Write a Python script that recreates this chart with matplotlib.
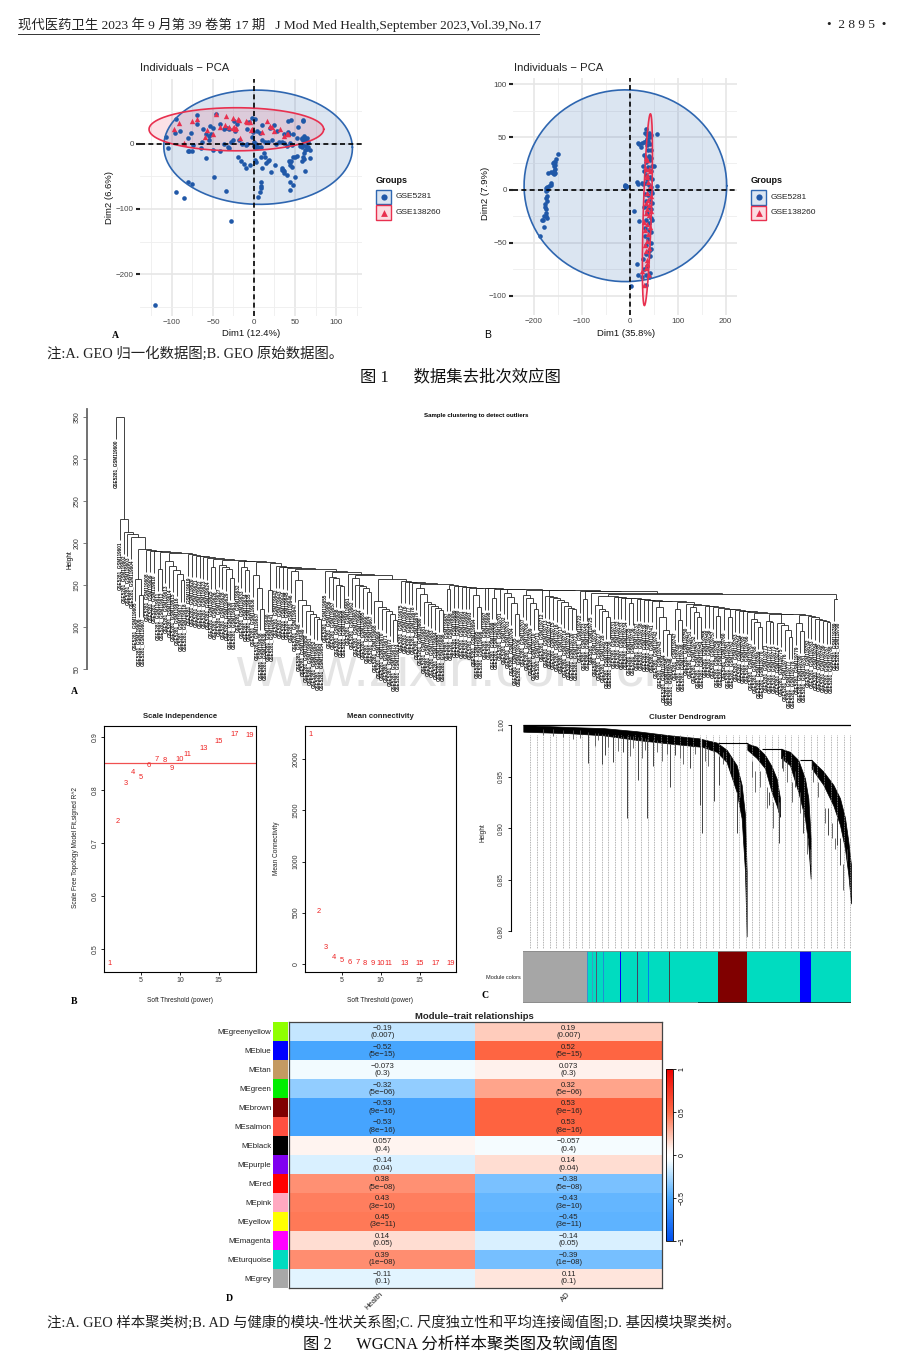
import numpy as np
import matplotlib
matplotlib.use("Agg")
import matplotlib.pyplot as plt
from matplotlib.colors import LinearSegmentedColormap
from matplotlib.patches import Rectangle

W, H = 920, 1372
SANS = "Liberation Sans"
SERIF = ["Liberation Serif", "Noto Sans CJK SC"]
plt.rcParams["font.family"] = SANS

# --- Figure 1: PCA values ---
a_blue = [(-121,-247),(-28,-118),(-95,-74),(-85,-83),(-81,-58),(-76,-62),(-49,-51),(-34,-72),
          (5,-81),(7,-74),(8,-68),(9,-65),(9,-58),(44,-71),(48,-63),(44,-58),(50,-51),(40,-48),
          (36,-42),(34,-40),(34,-38),(46,-36),(62,-42),(44,-33),(44,-28),(43,-26),(45,-27),
          (50,-20),(47,-20),(53,-19),(60,-20),(61,-24),(59,-27),(68,-22),(61,-14),(62,-10),
          (65,-8),(68,-10),(66,-5),(58,-5),(56,-3),(63,-3),(60,-2),(66,2),(64,4),(62,8),(59,9),
          (61,11),(65,8),(60,5),(58,7),(-59,-22),(-19,-20),(-16,-27),(-12,-31),(-10,-37),(-5,-33),
          (2,-28),(1,-25),(10,-37),(17,-27),(15,-30),(18,-25),(21,-43),(26,-33),(35,-40),(37,-45),
          (9,-20),(14,-20),(12,-15),(-105,-6),(-107,10),(-95,37),(-96,17),(-90,20),(-81,-12),
          (-79,-12),(-76,-11),(-81,8),(-77,17),(-74,-2),(-70,44),(-70,30),(-65,-7),(-64,2),(-58,15),
          (-55,5),(-55,12),(-52,14),(-50,24),(-50,-10),(-42,-11),(-36,-1),(-32,-5),(-30,-7),(-28,3),
          (-26,5),(-36,22),(-33,24),(-30,22),(-24,35),(-21,30),(-23,20),(-18,6),(-15,-1),(-10,-2),
          (-9,0),(-8,22),(-6,33),(-2,39),(1,38),(-1,18),(-2,10),(0,3),(0,-3),(2,-6),(3,0),(5,-5),
          (8,-5),(4,19),(7,17),(10,5),(13,3),(17,2),(22,6),(27,-1),(30,3),(34,3),(37,1),(40,-3),
          (44,1),(46,-2),(43,15),(42,18),(41,35),(45,36),(36,15),(48,15),(54,26),(60,36),(60,34),
          (52,9),(24,28),(20,24),(28,20),(10,28),(-41,30),(-46,45),(-54,27),(-62,22)]
a_red = [(-46,45),(-34,42),(-25,40),(-20,38),(-76,35),(-70,38),(-91,32),(-98,22),(-85,1),(-57,21),
         (-60,10),(-50,15),(-42,26),(-35,28),(-30,25),(-26,24),(-22,24),(-18,36),(-17,8),(-10,34),
         (-8,33),(-5,33),(-4,21),(-2,22),(10,18),(16,35),(19,27),(22,25),(25,20),(32,22),(36,12),
         (40,14),(42,15),(-23,22),(-24,26)]
b_blue = [(-150,34),(-153,29),(-155,26),(-156,24),(-158,26),(-158,23),(-160,25),(-156,20),(-158,18),
          (-155,16),(-160,16),(-158,15),(-165,17),(-170,16),(-165,7),(-165,5),(-168,4),(-172,3),
          (-174,2),(-172,0),(-174,-1),(-173,-6),(-175,-8),(-172,-10),(-176,-13),(-177,-16),(-175,-18),
          (-175,-22),(-174,-25),(-172,-26),(-178,-25),(-183,-28),(-180,-28),(-178,-35),(-187,-43),
          (-10,4),(-9,4),(-8,4),(-7,4),(-9,5),(-8,3),(17,44),(20,43),(23,41),(25,44),(30,45),(33,46),
          (58,53),(34,58),(32,54),(36,52),(40,54),(42,50),(36,48),(44,52),(38,46),(36,42),(42,43),
          (38,38),(44,38),(30,33),(34,30),(40,32),(44,30),(35,26),(42,28),(27,23),(38,22),(46,23),
          (50,23),(30,18),(44,18),(34,14),(42,12),(36,10),(46,10),(16,8),(18,6),(25,7),(28,6),(35,7),
          (58,4),(40,5),(44,3),(40,0),(44,-1),(32,-4),(38,-5),(46,-3),(34,-10),(42,-10),(47,-12),
          (30,-16),(38,-16),(45,-18),(36,-22),(44,-26),(10,-20),(20,-29),(35,-28),(40,-31),(46,-28),
          (32,-36),(40,-38),(44,-40),(32,-43),(38,-46),(44,-50),(34,-52),(40,-58),(33,-60),(45,-56),
          (42,-62),(28,-65),(15,-70),(36,-72),(30,-75),(18,-80),(33,-80),(40,-82),(3,-91),(33,-90),
          (42,-78),(25,-82)]
b_red = [(35,20),(40,20),(42,18),(36,14),(38,8),(42,3),(36,-3),(44,-6),(38,-9),(33,-12),(40,-14),
         (36,-18),(44,-20),(34,-22),(40,-24),(30,-30),(37,-32),(42,-35),(32,-38),(38,-42),(36,-48),
         (32,-52),(40,-55),(34,-58),(37,-66),(36,-70),(26,-76),(33,-74),(40,-80),(30,-90),(37,28),
         (34,30),(37,12)]
# centre x, centre y, radius x, radius y, shear
a_ell_blue = (5, -5.5, 115, 87.5, -2)
a_ell_red = (-21.5, 22, 106.5, 33, 0)
b_ell_blue = (-9, 4, 211.5, 90.5, 0)
b_ell_red = (37, -18.6, 8.5, 90.5, 6.3)

# --- Figure 2A: sample dendrogram, chain of (merge height, sub-branch heights) ---
dend_mid = [(137,[126,122,119,112]),(136,[]),(135.5,[]),(135,[]),(134.5,[]),(134,[128]),(133.5,[]),
            (133,[]),(132.5,[]),(132,[]),(131.5,[]),(131,[124,112,96,92]),(130,[122,108]),(127,[]),
            (126,[124,118,112]),(125,[]),(124.5,[]),(124,[]),(123,[113]),(122,[]),(121,[112]),(120,[]),
            (119,[]),(118.5,[]),(118,[]),(117,[110,106,100]),(116,[107,106]),(115,[105,102,97,88]),
            (114,[105,95]),(113,[]),(112,[]),(110,[]),(108,[]),(107,[]),(106,[])]
dend_chain = [(350,[]),(229,[]),(213,[]),(211,[]),(207,[]),(193,[157,138]),(192,[]),(191,[]),(190,[]),
              (189,[169]),(188,[178,173,168,163,156]),(187,[]),(186,[]),(185,[]),(184,[]),(183,[]),
              (182,[]),(181,[171]),(180,[174,171,169,158]),(179,[]),(178,[172,168]),
              (177,[162,146,122]),(176,[144]),(173,[]),(172,[]),(171,[]),(170,[]),
              (169,[167,156,132,126,119,116,112,110]),(167,[]),(165,[160,158,150,149]),(163,[]),
              (162,[158,150,149,147,142]),(157,[131,124,122,119,115,108]),(155,[]),(154,[]),(153,[]),
              (152,[]),(151,[146,139,130,127,125,123,120]),(150,[145]),(149,[]),(148.5,[]),(148,[]),
              (147.5,[]),(147,[]),(146.5,[138,124]),(146.2,[]),(146,[]),(145.5,[135]),(145.2,[]),
              (145,[141,136,128,115]),(144.5,[138,134,128,122]),(144,[]),(143.5,[137,136,134,132,130,125,123,122]),
              (143,[]),(142.5,[133]),(141,[]),(139.5,dend_mid),(133,[])]
dend_ticks = [50,100,150,200,250,300,350]

# --- Figure 2B: soft threshold ---
powers = [1,2,3,4,5,6,7,8,9,10,11,13,15,17,19]
sft_r2 = [0.474,0.740,0.812,0.833,0.824,0.847,0.857,0.855,0.840,0.857,0.867,0.879,0.892,0.905,0.903]
mean_k = [2245,509,160,59,29,16,10,7,5,3,2,1,0.5,0.3,0.2]

# --- Figure 2C: gene dendrogram envelopes, one block per branch ---
block_pos = [[0,140,240,340,440,530],[535,580,610,640,655,665,670],[672,700,725,745,760,770],
             [773,800,825,845,855,862],[865,900,930,950,965,975,983]]
block_top = [[1.000,0.998,0.997,0.994,0.990,0.987],[0.9864,0.983,0.976,0.961,0.942,0.913,0.858],
             [0.982,0.979,0.971,0.960,0.948,0.929],[0.977,0.974,0.966,0.948,0.929,0.890],
             [0.966,0.955,0.942,0.929,0.910,0.887,0.864]]
block_bot = [[0.9935,0.992,0.990,0.9855,0.982,0.979],[0.979,0.974,0.964,0.935,0.9095,0.858,0.795],
             [0.976,0.968,0.958,0.935,0.922,0.911],[0.968,0.961,0.935,0.9095,0.884,0.851],
             [0.958,0.942,0.922,0.903,0.880,0.855,0.827]]
spike_pos = [195,235,245,270,300,311,343,372,388,440,455,500,530,535,572,587,640,738,765,767,775,815,840,855,860,915,942,950,970]
spike_bot = [.963,.962,.971,.964,.974,.9095,.947,.9095,.960,.940,.971,.958,.922,.895,.926,.942,.895,.922,.916,.886,.958,.940,.895,.885,.865,.893,.884,.864,.868]
spike_top = [.993,.991,.991,.990,.989,.989,.988,.986,.985,.982,.982,.981,.980,.979,.975,.970,.935,.935,.93,.925,.968,.955,.92,.89,.88,.92,.91,.89,.88]
hair_pos = [60,90,120,150,170,215,225,255,285,320,330,355,365,400,415,430,470,480,515,545,555,600,620,630,650,685,695,710,730,750,780,790,805,830,850,870,885,905,925,935,958]
hair_bot = [.990,.989,.988,.986,.987,.980,.985,.979,.975,.970,.978,.968,.976,.974,.965,.972,.968,.962,.972,.965,.960,.962,.955,.950,.930,.950,.935,.940,.920,.900,.955,.945,.925,.915,.875,.945,.930,.905,.890,.880,.840]
hair_top = [.996,.996,.995,.995,.995,.992,.992,.991,.990,.989,.989,.988,.987,.985,.984,.983,.982,.981,.980,.980,.979,.974,.970,.965,.945,.965,.955,.955,.94,.925,.97,.965,.945,.935,.895,.96,.945,.92,.905,.89,.865]
link_h = [0.983,0.977,0.966]
link_x0 = [585,715,830]
link_x1 = [675,775,865]
module_start = [0,192,585,672,830,864]
module_end = [192,585,672,830,864,983]
module_col = ["#a6a6a6","#00dcc0","#800000","#00dcc0","#0000ff","#00dcc0"]
stripe_pos = [192,206,218,240,265,290,310,342,355,375,437,475]
stripe_col = ["#3a8fd0","#3aa0c0","#555577","#2090d0","#0000ff","#0000ff","#777777","#444466","#2090d0","#0080f0","#444444","#30a0d0"]

# --- Figure 2D: module-trait table ---
me_names = ["MEgreenyellow","MEblue","MEtan","MEgreen","MEbrown","MEsalmon","MEblack","MEpurple",
            "MEred","MEpink","MEyellow","MEmagenta","MEturquoise","MEgrey"]
me_cols = ["#8fff00","#0000ff","#c49a62","#00ee00","#800000","#ff5040","#000000","#8000f0",
           "#ff0000","#ffa8c0","#ffff00","#ff00ff","#00dcc0","#a8a8a8"]
cor_health = [-0.19,-0.52,-0.073,-0.32,-0.53,-0.53,0.057,-0.14,0.38,0.43,0.45,0.14,0.39,-0.11]
cor_ad = [0.19,0.52,0.073,0.32,0.53,0.53,-0.057,0.14,-0.38,-0.43,-0.45,-0.14,-0.39,0.11]
pvals = ["0.007","5e\u221215","0.3","5e\u221206","9e\u221216","8e\u221216","0.4","0.04",
         "5e\u221208","3e\u221210","3e\u221211","0.05","1e\u221208","0.1"]
traits = ["Health","AD"]
cmap_vals = [-1, -0.5, -0.19, -0.07, 0, 0.07, 0.19, 0.5, 1]
cmap_cols = ["#0050f0","#4baaff","#c5e7ff","#f4fcff","#ffffff","#fff3ee","#ffcdbd","#ff6a45","#ee0000"]

fig = plt.figure(figsize=(W / 100, H / 100), dpi=100, facecolor="white")


def pix_axes(left, top, right, bottom, **kw):
    return fig.add_axes([left / W, 1 - bottom / H, (right - left) / W, (bottom - top) / H], **kw)


# overlay in pixel units for running text, legends and panel letters
page = pix_axes(0, 0, W, H, facecolor="none", zorder=20)
page.set_xlim(0, W)
page.set_ylim(H, 0)
page.axis("off")

BLUE, RED = "#2058a8", "#e8304f"


def ellipse(ax, par, col, alpha):
    cx, cy, rx, ry, shear = par
    t = np.linspace(0, 2 * np.pi, 200)
    ex = cx + rx * np.cos(t) + shear * np.sin(t)
    ey = cy + ry * np.sin(t)
    ax.fill(ex, ey, color=col, alpha=alpha, lw=0, zorder=2)
    ax.plot(ex, ey, color=col, lw=1.2, zorder=5)


def pca_panel(box, xlim, ylim, xt, xm, yt, ym, blue, red, ell_b, ell_r):
    ax = pix_axes(*box)
    ax.set_xlim(xlim)
    ax.set_ylim(ylim)
    for s in ax.spines.values():
        s.set_visible(False)
    ax.set_xticks(xt)
    ax.set_xticks(xm, minor=True)
    ax.set_yticks(yt)
    ax.set_yticks(ym, minor=True)
    ax.grid(which="major", color="#e6e6e6", lw=1.2)
    ax.grid(which="minor", color="#eeeeee", lw=0.6)
    ax.set_axisbelow(True)
    ax.tick_params(axis="x", which="both", length=0, labelsize=5.8, labelcolor="#444444", pad=2)
    ax.tick_params(axis="y", which="major", length=3, width=1.5, color="#222222", labelsize=5.8, labelcolor="#444444", pad=1.5)
    ax.tick_params(axis="y", which="minor", length=0)
    ellipse(ax, ell_b, "#2e66b0", 0.17)
    ellipse(ax, ell_r, RED, 0.14)
    ax.scatter(*zip(*blue), s=11, color=BLUE, lw=0, zorder=4)
    ax.scatter(*zip(*red), s=15, marker="^", color=RED, lw=0, zorder=4)
    ax.axhline(0, color="black", lw=1.2, ls=(0, (3, 2)), zorder=6)
    ax.axvline(0, color="black", lw=1.2, ls=(0, (3, 2)), zorder=6)
    return ax


pca_panel((140, 79, 362, 316), (-139, 131.7), (-264, 99),
          [-100, -50, 0, 50, 100], [-125, -75, -25, 25, 75, 125],
          [-200, -100, 0], [-250, -150, -50, 50], a_blue, a_red, a_ell_blue, a_ell_red)
pca_panel((513, 78, 737, 315), (-243.6, 224), (-118, 105.7),
          [-200, -100, 0, 100, 200], [-150, -50, 50, 150],
          [-100, -50, 0, 50, 100], [-75, -25, 25, 75], b_blue, b_red, b_ell_blue, b_ell_red)


def pca_labels(tx, xl, xy, yl, yy, yx, gx, name_x, legend_top):
    page.text(tx, 68, "Individuals \u2212 PCA", fontsize=8.1, va="center", color="#222222")
    page.text(xl, 333.3, xy, fontsize=6.8, ha="center", va="center", color="#111111")
    page.text(yx, yy, yl, fontsize=6.8, ha="center", va="center", rotation=90, color="#111111")
    page.text(gx, 180.5, "Groups", fontsize=6.5, va="center", color="#111111", fontweight="bold")
    for i, (name, col, mk, size) in enumerate([("GSE5281", "#2e66b0", "o", 20), ("GSE138260", RED, "^", 24)]):
        top = legend_top + i * 15.8
        page.add_patch(Rectangle((gx + 0.5, top), 14.3, 14.5, fc=col, ec=col, alpha=0.17, lw=0))
        page.add_patch(Rectangle((gx + 0.5, top), 14.3, 14.5, fc="none", ec=col, lw=1))
        page.scatter([gx + 7.6], [top + 7.2], s=size, marker=mk, color=BLUE if i == 0 else RED, lw=0)
        page.text(name_x, top + 7.2, name, fontsize=6, va="center", color="#222222")


pca_labels(140, 251, "Dim1 (12.4%)", "Dim2 (6.6%)", 197, 110, 376, 396, 189.5)
pca_labels(514, 626, "Dim1 (35.8%)", "Dim2 (7.9%)", 193, 485.5, 751, 771, 190)
page.text(115, 335, "A", fontsize=7, ha="center", va="center", family=SERIF, fontweight="bold")
page.text(487.5, 335, "B", fontsize=7.5, ha="center", va="center")

# --- Dendrogram A ---
HANG = 26
leaves, v_segs, h_segs = [], [], []
next_leaf = 0


def child(item, h):
    global next_leaf
    if not item:
        x = next_leaf
        next_leaf += 1
        leaves.append((x, h))
        return x
    x, ch = walk(item)
    v_segs.append((x, ch, h))
    return x


def walk(chain):
    h, sub = chain[0]
    if sub and not isinstance(sub[0], tuple):
        sub = [(v, []) for v in sub]
    xl = child(sub, h)
    xr = child(chain[1:], h)
    h_segs.append((h, xl, xr))
    return (xl + xr) / 2, h


walk(dend_chain)
n_leaf = next_leaf
ax = pix_axes(87, 405, 838, 700, facecolor="none")
ax.set_xlim(-(116 - 87) / (838 - 116) * (n_leaf - 1), n_leaf - 1)
ax.set_ylim(50 - (700 - 669) / 0.84, 50 + (669 - 405) / 0.84)
for x, h in leaves:
    v_segs.append((x, h - HANG, h))
    ax.text(x, h - HANG - 1, f"GSE5281_GSM{119600 + x}", rotation=90, ha="center", va="top",
            fontsize=3.3, fontweight="bold", color="#111111", clip_on=False)
vx, v0, v1 = zip(*v_segs)
ax.vlines(vx, v0, v1, color="#222222", lw=0.6)
hy, h0, h1 = zip(*h_segs)
ax.hlines(hy, h0, h1, color="#222222", lw=0.6)
for s in ["top", "right", "bottom"]:
    ax.spines[s].set_visible(False)
ax.spines["left"].set_bounds(50, 360)
ax.spines["left"].set_color("#666666")
ax.spines["left"].set_linewidth(1.3)
ax.set_xticks([])
ax.set_yticks(dend_ticks)
ax.tick_params(axis="y", length=3, width=0.6, color="#666666", labelsize=5, labelcolor="#333333", pad=1.5)
plt.setp(ax.get_yticklabels(), rotation=90, va="center")
page.text(70.5, 560, "Height", fontsize=4.7, rotation=90, ha="center", va="center")
page.text(476, 415.5, "Sample clustering to detect outliers", fontsize=4.4, fontweight="bold", ha="center", va="center")
page.text(74, 691, "A", fontsize=7, ha="center", va="center", family=SERIF, fontweight="bold")

# background watermark
fig.text(455 / W, 1 - 685 / H, "www.zixin.com.cn", fontsize=40, color="#e4e4e4", ha="center", va="baseline", zorder=-5)


# --- Soft threshold panels ---
def sft_panel(box, xlim, ylim, yvals, yticks, title, ylabel, ylabel_x):
    ax = pix_axes(*box)
    ax.set_xlim(xlim)
    ax.set_ylim(ylim)
    for p, v in zip(powers, yvals):
        ax.text(p, v, str(p), color="#ee2020", fontsize=5.4, ha="center", va="center")
    ax.set_xticks([5, 10, 15])
    ax.set_yticks(yticks)
    ax.tick_params(length=2.5, width=0.6, labelsize=5, pad=1.5, labelcolor="#333333")
    plt.setp(ax.get_yticklabels(), rotation=90, va="center")
    for s in ax.spines.values():
        s.set_linewidth(0.8)
    cx = (box[0] + box[2]) / 2
    page.text(cx, 716.5, title, fontsize=5.6, fontweight="bold", ha="center", va="center", color="#222222")
    page.text(cx, 1000.5, "Soft Threshold (power)", fontsize=4.7, ha="center", va="center", color="#222222")
    page.text(ylabel_x, 848, ylabel, fontsize=4.7, rotation=90, ha="center", va="center", color="#222222")
    return ax


ax = sft_panel((104.3, 725.7, 255.7, 971.7), (0.28, 19.76), (0.458, 0.921), sft_r2,
               [0.5, 0.6, 0.7, 0.8, 0.9], "Scale independence", "Scale Free Topology Model Fit,signed R^2", 76)
ax.axhline(0.85, color="#f05050", lw=0.9)
sft_panel((305, 725.7, 455.7, 971.7), (0.3, 19.6), (-78, 2329), mean_k,
          [0, 500, 1000, 1500, 2000], "Mean connectivity", "Mean Connectivity", 277)
page.text(74, 1001, "B", fontsize=7, ha="center", va="center", family=SERIF, fontweight="bold")

# --- Cluster dendrogram C ---
ax = pix_axes(510.7, 720, 851, 949, facecolor="none")
ax.set_xlim(-37.8, 983)
ax.set_ylim(0.7828, 1.00485)
guides = np.arange(20, 984, 19.6)
ax.vlines(guides, 0.7828, 0.99, color="#999999", lw=0.6, ls=(0, (1, 1)))
ax.vlines(hair_pos, hair_bot, hair_top, color="#555555", lw=0.6)
ax.vlines(spike_pos, spike_bot, spike_top, color="#444444", lw=0.7)
for px_, tp, bt in zip(block_pos, block_top, block_bot):
    ax.fill_between(px_, bt, tp, color="black", lw=0.5)
ax.hlines(link_h, link_x0, link_x1, color="black", lw=0.8)
ax.hlines(1.0, 0, 983, color="black", lw=0.9)
ax.vlines(983, 0.99, 1.0, color="black", lw=0.6)
for s in ["top", "right", "bottom"]:
    ax.spines[s].set_visible(False)
ax.spines["left"].set_bounds(0.80, 1.00)
ax.set_xticks([])
ax.set_yticks([0.80, 0.85, 0.90, 0.95, 1.00])
ax.set_yticklabels(["0.80", "0.85", "0.90", "0.95", "1.00"])
ax.tick_params(axis="y", length=2.5, width=0.6, labelsize=4.8, pad=1.5, labelcolor="#333333")
plt.setp(ax.get_yticklabels(), rotation=90, va="center")
page.text(483, 833, "Height", fontsize=4.7, rotation=90, ha="center", va="center", color="#222222")
page.text(687, 717.5, "Cluster Dendrogram", fontsize=5.7, fontweight="bold", ha="center", va="center", color="#222222")

ax = pix_axes(523.3, 951, 851, 1003)
ax.set_xlim(0, 983)
ax.set_ylim(0, 1)
ax.barh(0.5, np.array(module_end) - np.array(module_start), left=module_start, height=1, color=module_col, lw=0)
ax.barh(0.5, 2.5, left=stripe_pos, height=1, color=stripe_col, lw=0)
ax.hlines(1, 0, 983, color="#888888", lw=1.2)
ax.hlines(0, 0, 525, color="#888888", lw=1.2)
ax.hlines(0, 525, 983, color="#222222", lw=1.2)
ax.axis("off")
page.text(520.5, 977.5, "Module colors", fontsize=4, ha="right", va="center", color="#222222")
page.text(485.5, 995.5, "C", fontsize=7, ha="center", va="center", family=SERIF, fontweight="bold")

# --- Module-trait heatmap D ---
cmap = LinearSegmentedColormap.from_list("bwr_wgcna", [((v + 1) / 2, c) for v, c in zip(cmap_vals, cmap_cols)])
ax = pix_axes(289.3, 1022.3, 661.7, 1287.7)
vals = np.array([cor_health, cor_ad]).T
im = ax.imshow(vals, cmap=cmap, vmin=-1, vmax=1, aspect="auto")
for r in range(len(me_names)):
    for c, col_vals in enumerate([cor_health, cor_ad]):
        ax.text(c, r, f"{col_vals[r]:g}".replace("-", "\u2212") + f"\n({pvals[r]})", fontsize=5.6,
                ha="center", va="center", linespacing=1.05, color="#222222")
ax.set_xticks([])
ax.set_yticks([])
for s in ax.spines.values():
    s.set_linewidth(0.9)
    s.set_color("#444444")

ax = pix_axes(273.3, 1022.3, 287.7, 1287.7)
ax.barh(range(len(me_names)), 1, height=1, color=me_cols, lw=0)
ax.set_xlim(0, 1)
ax.set_ylim(len(me_names) - 0.5, -0.5)
ax.set_xticks([])
ax.set_yticks(range(len(me_names)))
ax.set_yticklabels(me_names)
ax.tick_params(axis="y", length=0, labelsize=5.7, pad=1.5, labelcolor="#222222")
for s in ax.spines.values():
    s.set_visible(False)

cax = pix_axes(666, 1069, 673.3, 1240.7)
cb = fig.colorbar(im, cax=cax, ticks=[-1, -0.5, 0, 0.5, 1])
cb.ax.set_yticklabels(["\u22121", "\u22120.5", "0", "0.5", "1"])
cb.ax.tick_params(length=2.5, width=0.6, labelsize=5, pad=1.5)
plt.setp(cb.ax.get_yticklabels(), rotation=90, va="center")
cb.outline.set_linewidth(0.6)

page.text(474, 1016.5, "Module\u2212trait relationships", fontsize=6.8, fontweight="bold", ha="center", va="center", color="#222222")
for xp, yp, name in zip([374, 566], [1301, 1297], traits):
    page.text(xp, yp, name, fontsize=5.5, rotation=45, ha="center", va="center", color="#222222")
page.text(229, 1298.5, "D", fontsize=7, ha="center", va="center", family=SERIF, fontweight="bold")

# --- Page text ---
page.text(18, 25, "现代医药卫生 2023 年 9 月第 39 卷第 17 期   J Mod Med Health,September 2023,Vol.39,No.17",
          fontsize=9.6, va="center", family=SERIF, color="#222222")
page.plot([18, 539], [33.5, 33.5], color="#333333", lw=0.7)
page.text(886, 25, "\u2022  2 8 9 5  \u2022", fontsize=9.6, ha="right", va="center", family=SERIF, color="#222222")
page.text(47, 353.5, "注:A. GEO 归一化数据图;B. GEO 原始数据图。", fontsize=10.4, va="center", family=SERIF, color="#222222")
page.text(460, 377, "图 1      数据集去批次效应图", fontsize=11.8, ha="center", va="center", family=SERIF, color="#111111")
page.text(47, 1322.5, "注:A. GEO 样本聚类树;B. AD 与健康的模块-性状关系图;C. 尺度独立性和平均连接阈值图;D. 基因模块聚类树。",
          fontsize=10.4, va="center", family=SERIF, color="#222222")
page.text(460, 1345, "图 2      WGCNA 分析样本聚类图及软阈值图", fontsize=11.8, ha="center", va="center", family=SERIF, color="#111111")

print(n_leaf)
fig.savefig("out.png", dpi=100)
